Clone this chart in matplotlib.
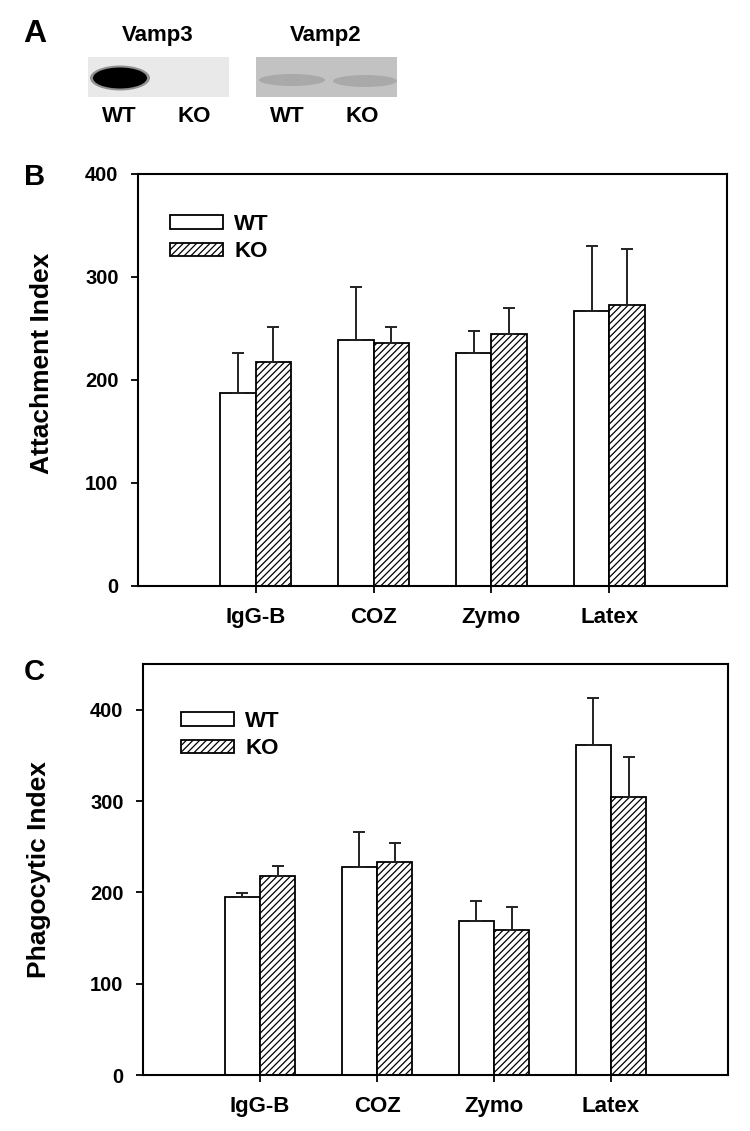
import numpy as np
import matplotlib
matplotlib.use('Agg')
import matplotlib.pyplot as plt
from matplotlib.patches import Rectangle, Ellipse

plt.rcParams['font.family'] = ['Liberation Sans', 'DejaVu Sans']
plt.rcParams['font.weight'] = 'bold'
plt.rcParams['axes.labelweight'] = 'bold'
plt.rcParams['hatch.linewidth'] = 0.9
plt.rcParams['hatch.color'] = '#333333'

categories = ["IgG-B", "COZ", "Zymo", "Latex"]
groups = ["WT", "KO"]

# Panel B - attachment index
attach_wt = [187, 239, 226, 267]
attach_wt_err = [39, 51, 22, 63]
attach_ko = [217, 236, 245, 273]
attach_ko_err = [34, 15, 25, 54]

# Panel C - phagocytic index
phago_wt = [195, 228, 169, 361]
phago_wt_err = [4, 38, 22, 52]
phago_ko = [218, 233, 159, 304]
phago_ko_err = [11, 21, 25, 44]

blot_names = ["Vamp3", "Vamp2"]

fig = plt.figure(figsize=(7.5, 11.31), dpi=100)

# ---- panel A: blots, drawn in pixel coordinates ----
axa = fig.add_axes([0, 0, 1, 1])
axa.set_xlim(0, 750)
axa.set_ylim(1131, 0)
axa.axis('off')
axa.text(35, 34, "A", fontsize=23, ha='center', va='center')

blot_x = [88, 256]
blot_bg = ['#e9e9e9', '#c2c2c2']
for name, x0, bg in zip(blot_names, blot_x, blot_bg):
    axa.add_patch(Rectangle((x0, 57), 141, 40, facecolor=bg, edgecolor='none'))
    axa.text(x0 + 70, 35, name, fontsize=16, ha='center', va='center')
    axa.text(x0 + 31, 117, "WT", fontsize=16, ha='center', va='center')
    axa.text(x0 + 106, 117, "KO", fontsize=16, ha='center', va='center')

# Vamp3 WT band
axa.add_patch(Ellipse((120, 78), 60, 25, facecolor='#3a3a3a', edgecolor='none', alpha=0.5))
axa.add_patch(Ellipse((120, 78), 54, 21, facecolor='black', edgecolor='none'))
# faint Vamp2 bands
axa.add_patch(Ellipse((292, 80), 66, 12, facecolor='#858585', edgecolor='none', alpha=0.4))
axa.add_patch(Ellipse((365, 81), 64, 12, facecolor='#858585', edgecolor='none', alpha=0.4))


def bar_panel(ax, wt, wt_err, ko, ko_err, ymax, ylabel, letter, lab_xy, let_xy, leg_xy):
    x = np.arange(1, len(categories) + 1)
    w = 0.30
    ax.bar(x - w / 2, wt, w, color='white', edgecolor='black', linewidth=1.3,
           label=groups[0], zorder=2)
    ax.bar(x + w / 2, ko, w, color='white', edgecolor='black', linewidth=1.3,
           hatch='/////', label=groups[1], zorder=2)
    ax.errorbar(x - w / 2, wt, yerr=[np.zeros(len(wt)), wt_err], fmt='none',
                ecolor='#222222', elinewidth=1.4, capsize=4.5, capthick=1.4, zorder=3)
    ax.errorbar(x + w / 2, ko, yerr=[np.zeros(len(ko)), ko_err], fmt='none',
                ecolor='#222222', elinewidth=1.4, capsize=4.5, capthick=1.4, zorder=3)
    ax.set_xlim(0, len(categories) + 1)
    ax.set_ylim(0, ymax)
    ax.set_yticks([0, 100, 200, 300, 400])
    ax.set_xticks(x)
    ax.set_xticklabels(categories, fontsize=16)
    ax.tick_params(axis='both', direction='out', length=5, width=1.3)
    ax.tick_params(axis='y', labelsize=14.5, pad=9)
    ax.tick_params(axis='x', pad=10)
    for s in ax.spines.values():
        s.set_linewidth(1.5)
    ax.set_ylabel(ylabel, fontsize=19, va='center')
    ax.yaxis.set_label_coords(*lab_xy)
    leg = ax.legend(loc='upper left', bbox_to_anchor=leg_xy, frameon=False,
                    fontsize=16, handlelength=2.4, handleheight=0.55,
                    labelspacing=0.3, handletextpad=0.5)
    for h in leg.legend_handles:
        h.set_linewidth(1.3)
    ax.text(let_xy[0], let_xy[1], letter, transform=ax.transAxes, fontsize=21,
            ha='left', va='center')


axb = fig.add_axes([0.184, 0.4819, 0.7853, 0.3643])
bar_panel(axb, attach_wt, attach_wt_err, attach_ko, attach_ko_err, 400,
          "Attachment Index", "B", (-0.163, 0.54), (-0.194, 0.993), (0.02, 0.952))

axc = fig.add_axes([0.1907, 0.0495, 0.78, 0.3634])
bar_panel(axc, phago_wt, phago_wt_err, phago_ko, phago_ko_err, 450,
          "Phagocytic Index", "C", (-0.178, 0.5), (-0.204, 0.98), (0.03, 0.935))

fig.savefig("out.png", dpi=100)
